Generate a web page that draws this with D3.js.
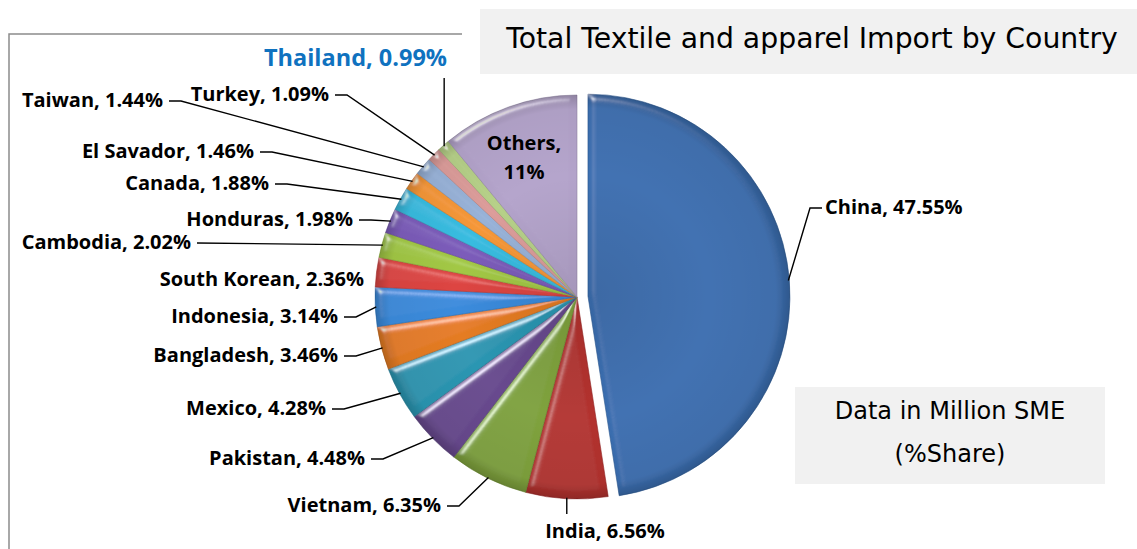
<!DOCTYPE html>
<html>
<head>
<meta charset="utf-8">
<script src="https://cdn.jsdelivr.net/npm/d3@7"></script>
<style>
    body { margin: 0; background: #fff; }
    .slice-label { font-family: "Open Sans", "Noto Sans", sans-serif; font-weight: bold; font-size: 20px; fill: #000; }
    .box-text { font-family: "DejaVu Sans", sans-serif; fill: #000; }
</style>
</head>
<body>
<div id="pie-area"></div>
<script>

// chart data (clockwise from 12 o'clock)
const countries = ["China", "India", "Vietnam", "Pakistan", "Mexico", "Bangladesh", "Indonesia",
    "South Korean", "Cambodia", "Honduras", "Canada", "El Savador", "Taiwan", "Turkey", "Thailand", "Others"];
const shares = [47.55, 6.56, 6.35, 4.48, 4.28, 3.46, 3.14, 2.36, 2.02, 1.98, 1.88, 1.46, 1.44, 1.09, 0.99, 11];
const shareLabels = ["47.55%", "6.56%", "6.35%", "4.48%", "4.28%", "3.46%", "3.14%", "2.36%", "2.02%",
    "1.98%", "1.88%", "1.46%", "1.44%", "1.09%", "0.99%", "11%"];
const sliceColors = ["#3A6EB0", "#B3302E", "#7FA23C", "#674A8E", "#2A96B2", "#E57C24", "#3A8BDC",
    "#DD4442", "#A2C845", "#7C5BBA", "#38BCE0", "#F59738", "#98B2D8", "#DC9C9A", "#B6D088", "#B3A3CA"];

const chartTitle = "Total Textile and apparel Import by Country";
const noteLines = ["Data in Million SME", "(%Share)"];

// label layout: text anchor point and how the leader line is drawn
// line: "elbow" = short horizontal then to slice, "straight", "vertical", "none", "inside"
const labelLayout = [
    { x: 825, y: 214, anchor: "start", line: "elbow" },   // China
    { x: 605, y: 538, anchor: "middle", line: "vertical" }, // India
    { x: 441, y: 512, anchor: "end", line: "elbow" },
    { x: 365, y: 465, anchor: "end", line: "elbow" },
    { x: 326, y: 415, anchor: "end", line: "elbow" },
    { x: 338, y: 362, anchor: "end", line: "elbow" },
    { x: 338, y: 323, anchor: "end", line: "elbow" },
    { x: 364, y: 286, anchor: "end", line: "none" },
    { x: 191, y: 249, anchor: "end", line: "straight" },
    { x: 353, y: 226, anchor: "end", line: "elbow" },
    { x: 269, y: 190, anchor: "end", line: "elbow" },
    { x: 254, y: 158, anchor: "end", line: "elbow" },
    { x: 163, y: 107, anchor: "end", line: "elbow" },
    { x: 329, y: 101, anchor: "end", line: "elbow" },
    { x: 447, y: 66, anchor: "end", line: "vertical" },    // Thailand
    { x: 524, y: 150, anchor: "middle", line: "inside" }   // Others
];


class PieVis {

    constructor(_parentElement) {
        this.parentElement = _parentElement;
        this.initVis();
    }

    initVis() {
        let vis = this;

        vis.width = 1137;
        vis.height = 549;
        vis.radius = 202;
        vis.cx = 577;
        vis.cy = 297;
        vis.explode = 11;

        vis.svg = d3.select("#" + vis.parentElement).append("svg")
            .attr("width", vis.width)
            .attr("height", vis.height);

        // bevel look like the office charts
        let defs = vis.svg.append("defs");
        let filter = defs.append("filter")
            .attr("id", "bevel")
            .attr("x", "-10%").attr("y", "-10%")
            .attr("width", "120%").attr("height", "120%");
        filter.append("feGaussianBlur")
            .attr("in", "SourceAlpha")
            .attr("stdDeviation", 3.5)
            .attr("result", "blur");
        filter.append("feSpecularLighting")
            .attr("in", "blur")
            .attr("surfaceScale", 4)
            .attr("specularConstant", 0.7)
            .attr("specularExponent", 40)
            .attr("lighting-color", "#ffffff")
            .attr("result", "spec")
            .append("feDistantLight")
            .attr("azimuth", 235)
            .attr("elevation", 40);
        filter.append("feComposite")
            .attr("in", "spec").attr("in2", "SourceAlpha")
            .attr("operator", "in").attr("result", "specIn");
        filter.append("feComposite")
            .attr("in", "SourceGraphic").attr("in2", "specIn")
            .attr("operator", "arithmetic")
            .attr("k1", 0).attr("k2", 1).attr("k3", 1).attr("k4", 0);

        // shading towards the rim
        let grad = defs.append("radialGradient")
            .attr("id", "rimShade")
            .attr("gradientUnits", "userSpaceOnUse")
            .attr("cx", 0).attr("cy", 0).attr("r", vis.radius);
        grad.append("stop").attr("offset", "0%").attr("stop-color", "#000").attr("stop-opacity", 0.08);
        grad.append("stop").attr("offset", "60%").attr("stop-color", "#000").attr("stop-opacity", 0);
        grad.append("stop").attr("offset", "93%").attr("stop-color", "#000").attr("stop-opacity", 0.04);
        grad.append("stop").attr("offset", "100%").attr("stop-color", "#000").attr("stop-opacity", 0.2);

        // chart area border (left + top)
        vis.svg.append("path")
            .attr("d", "M9,549 L9,34 L462,34")
            .attr("fill", "none")
            .attr("stroke", "#8c8c8c")
            .attr("stroke-width", 1.5);

        // title box
        vis.svg.append("rect")
            .attr("x", 480).attr("y", 9)
            .attr("width", 657).attr("height", 65)
            .attr("fill", "#f1f1f1");
        vis.svg.append("text")
            .attr("class", "box-text")
            .attr("x", 812).attr("y", 48)
            .attr("text-anchor", "middle")
            .attr("font-size", 28.3)
            .text(chartTitle);

        // note box
        vis.svg.append("rect")
            .attr("x", 795).attr("y", 387)
            .attr("width", 310).attr("height", 97)
            .attr("fill", "#f1f1f1");
        vis.svg.selectAll(".note")
            .data(noteLines)
            .enter().append("text")
            .attr("class", "box-text note")
            .attr("x", 950)
            .attr("y", (d, i) => 419 + i * 43)
            .attr("text-anchor", "middle")
            .attr("font-size", 24)
            .text(d => d);

        vis.pie = d3.pie()
            .sort(null)
            .value(d => d.value);

        vis.arc = d3.arc()
            .innerRadius(0)
            .outerRadius(vis.radius);

        vis.wrangleData();
    }

    wrangleData() {
        let vis = this;

        vis.displayData = countries.map((c, i) => ({
            name: c,
            value: shares[i],
            label: shareLabels[i],
            color: sliceColors[i],
            layout: labelLayout[i]
        }));

        vis.updateVis();
    }

    // offset of a slice (only China is pulled out)
    offset(d, i) {
        let vis = this;
        if (i !== 0) return [0, 0];
        let a = (d.startAngle + d.endAngle) / 2;
        return [vis.explode * Math.sin(a), -vis.explode * Math.cos(a)];
    }

    updateVis() {
        let vis = this;

        let arcs = vis.pie(vis.displayData);

        let pieG = vis.svg.append("g")
            .attr("transform", "translate(" + vis.cx + "," + vis.cy + ")");

        let slices = pieG.selectAll(".slice")
            .data(arcs)
            .enter().append("g")
            .attr("class", "slice")
            .attr("transform", (d, i) => "translate(" + vis.offset(d, i) + ")");

        slices.append("path")
            .attr("d", vis.arc)
            .attr("fill", d => d.data.color)
            .attr("stroke", d => d3.color(d.data.color).darker(0.6))
            .attr("stroke-width", 0.6)
            .attr("filter", "url(#bevel)");

        slices.append("path")
            .attr("d", vis.arc)
            .attr("fill", "url(#rimShade)")
            .attr("pointer-events", "none");

        // leader lines
        let lineGen = d3.line();
        let leaders = [];
        arcs.forEach((d, i) => {
            let lay = d.data.layout;
            if (lay.line === "none" || lay.line === "inside") return;
            let a = (d.startAngle + d.endAngle) / 2;
            let off = vis.offset(d, i);
            let edge = [vis.cx + off[0] + (vis.radius - 1) * Math.sin(a),
                vis.cy + off[1] - (vis.radius - 1) * Math.cos(a)];
            let pts;
            if (lay.line === "vertical") {
                if (lay.anchor === "middle") {
                    pts = [edge, [edge[0], lay.y - 24]];
                } else {
                    pts = [edge, [edge[0], lay.y + 12]];
                }
            } else {
                let sx = lay.anchor === "start" ? lay.x - 3 : lay.x + 6;
                let sy = lay.y - 6;
                if (lay.line === "straight") {
                    pts = [[sx, sy], edge];
                } else {
                    let ex = lay.anchor === "start" ? sx - 12 : sx + 12;
                    pts = [[sx, sy], [ex, sy], edge];
                }
            }
            leaders.push(pts);
        });

        vis.svg.selectAll(".leader")
            .data(leaders)
            .enter().append("path")
            .attr("class", "leader")
            .attr("d", lineGen)
            .attr("fill", "none")
            .attr("stroke", "#000")
            .attr("stroke-width", 1.4);

        // labels
        let outside = vis.displayData.filter(d => d.layout.line !== "inside");
        vis.svg.selectAll(".slice-label")
            .data(outside)
            .enter().append("text")
            .attr("class", "slice-label")
            .attr("x", d => d.layout.x)
            .attr("y", d => d.layout.y)
            .attr("text-anchor", d => d.layout.anchor)
            .style("fill", d => d.name === "Thailand" ? "#0F72BF" : "#000")
            .style("font-size", d => d.name === "Thailand" ? "23.5px" : null)
            .text(d => d.name + ", " + d.label);

        let inside = vis.displayData.filter(d => d.layout.line === "inside");
        inside.forEach(d => {
            let t = vis.svg.append("text")
                .attr("class", "slice-label")
                .attr("text-anchor", "middle");
            t.append("tspan").attr("x", d.layout.x).attr("y", d.layout.y).text(d.name + ",");
            t.append("tspan").attr("x", d.layout.x).attr("y", d.layout.y + 29).text(d.label);
        });
    }
}

new PieVis("pie-area");
</script>
</body>
</html>
